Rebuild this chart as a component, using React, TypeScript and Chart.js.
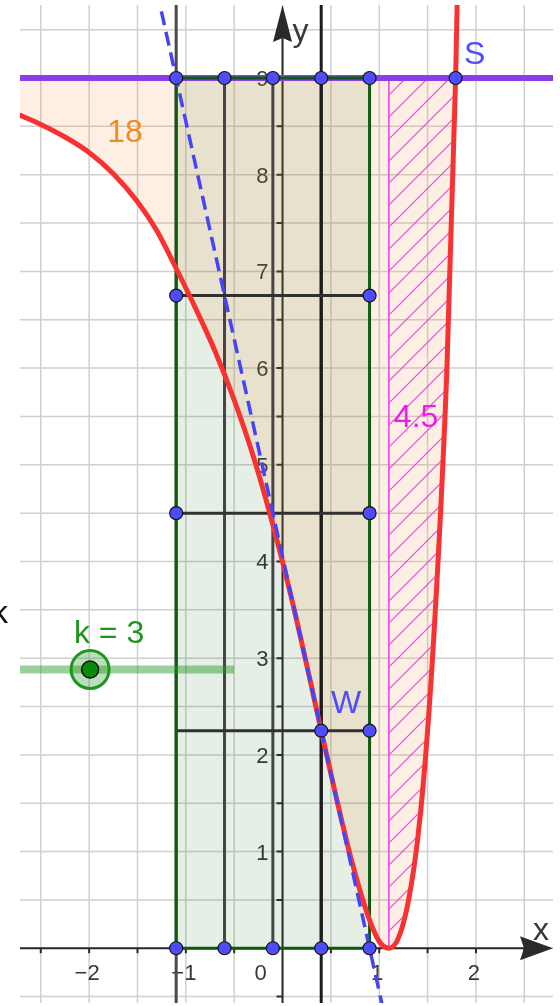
import React, { useEffect, useRef } from 'react';
import { Chart, registerables } from 'chart.js';

Chart.register(...registerables);

// ---------- view window (data units) ----------
const xMin = -2.715;
const xMax = 2.797;
const yMin = -0.566;
const yMax = 9.755;
const gridStep = 0.5;

// ---------- tick labels ----------
const xTickValues = [-2, -1, 0, 1, 2];
const xTickLabels = ['−2', '−1', '0', '1', '2'];
const yTickValues = [1, 2, 3, 4, 5, 6, 7, 8, 9];
const yTickLabels = ['1', '2', '3', '4', '5', '6', '7', '8', '9'];

// ---------- red curve f ----------
const curveX = [-2.75, -2.5, -2.25, -2.0, -1.75, -1.5, -1.3, -1.1, -0.9, -0.7, -0.5, -0.3, -0.1, 0.1, 0.25, 0.4, 0.55, 0.7, 0.8, 0.9, 1.0, 1.1, 1.2, 1.3, 1.4, 1.5, 1.6, 1.7, 1.79, 1.81];
const curveY = [8.63, 8.52, 8.39, 8.23, 8.01, 7.72, 7.42, 7.03, 6.62, 6.18, 5.67, 5.08, 4.38, 3.59, 2.93, 2.25, 1.585, 0.96, 0.6, 0.29, 0.07, 0.0, 0.11, 0.48, 1.15, 2.25, 3.85, 6.0, 9.0, 10.0];

// ---------- other objects ----------
const levelValue = 9; // purple line y = 9
const levelX = [-3, 3];
const tangentX = [-1.3, 1.05];
const tangentY = [9.9, -0.675];
const gridXs = [-1.1, -0.6, -0.1, 0.4, 0.9];
const gridYs = [0, 2.25, 4.5, 6.75, 9];
const fullLineXs = [-1.1, 0.4];
const fullLineY = [-1, 10.5];
const pointS = [1.79, 9];
const pointW = [0.4, 2.25];
const hatchRange = [1.1, 1.79];
const sliderLineX = [-3, -0.5];
const sliderLineY = 2.883;
const sliderKnobX = -1.99;
const kValue = 3;
const areaLeft = 18;
const areaRight = 4.5;

const FONT = '"Liberation Sans", Arial, Helvetica, sans-serif';

type P = { x: number; y: number };
const pts = (xs: number[], ys: number[]): P[] => xs.map((x, i) => ({ x, y: ys[i] }));
const curve = pts(curveX, curveY);

const seg = (a: P, b: P, color: string, width: number, order: number, extra: any = {}) => ({
  data: [a, b],
  borderColor: color,
  borderWidth: width,
  pointRadius: 0,
  fill: false,
  order,
  clip: 0,
  ...extra,
});

function makeHatch(): CanvasPattern | string {
  const s = 22;
  const c = document.createElement('canvas');
  c.width = s;
  c.height = s;
  const g = c.getContext('2d');
  if (!g) return 'rgba(255,0,255,0.2)';
  g.strokeStyle = '#F23CF2';
  g.lineWidth = 1.2;
  g.beginPath();
  g.moveTo(0, s);
  g.lineTo(s, 0);
  g.moveTo(-s / 2, s / 2);
  g.lineTo(s / 2, -s / 2);
  g.moveTo(s / 2, s * 1.5);
  g.lineTo(s * 1.5, s / 2);
  g.stroke();
  return g.createPattern(c, 'repeat') || 'rgba(255,0,255,0.2)';
}

const geoPlugin = {
  id: 'geo',
  beforeDatasetsDraw(chart: any) {
    const { ctx, chartArea: a } = chart;
    const X = (v: number) => chart.scales.x.getPixelForValue(v);
    const Y = (v: number) => chart.scales.y.getPixelForValue(v);
    ctx.save();
    ctx.beginPath();
    ctx.rect(a.left, a.top, a.right - a.left, a.bottom - a.top);
    ctx.clip();
    // grid
    ctx.strokeStyle = '#D0D0D0';
    ctx.lineWidth = 1.5;
    ctx.beginPath();
    for (let v = Math.ceil(xMin / gridStep) * gridStep; v <= xMax; v += gridStep) {
      ctx.moveTo(X(v), a.top);
      ctx.lineTo(X(v), a.bottom);
    }
    for (let v = Math.ceil(yMin / gridStep) * gridStep; v <= yMax; v += gridStep) {
      ctx.moveTo(a.left, Y(v));
      ctx.lineTo(a.right, Y(v));
    }
    ctx.stroke();
    // axes
    const ox = X(0);
    const oy = Y(0);
    ctx.strokeStyle = '#2a2a2a';
    ctx.lineWidth = 2;
    ctx.beginPath();
    ctx.moveTo(a.left, oy);
    ctx.lineTo(a.right - 20, oy);
    ctx.moveTo(ox, a.bottom);
    ctx.lineTo(ox, a.top + 20);
    ctx.stroke();
    ctx.beginPath();
    for (let v = Math.ceil(xMin / gridStep) * gridStep; v <= xMax; v += gridStep) {
      if (Math.abs(v) < 1e-9) continue;
      ctx.moveTo(X(v), oy);
      ctx.lineTo(X(v), oy + 5);
    }
    for (let v = Math.ceil(yMin / gridStep) * gridStep; v <= yMax; v += gridStep) {
      if (Math.abs(v) < 1e-9) continue;
      ctx.moveTo(ox - 6, Y(v));
      ctx.lineTo(ox, Y(v));
    }
    ctx.stroke();
    // arrows
    ctx.fillStyle = '#2a2a2a';
    ctx.beginPath();
    ctx.moveTo(a.right, oy);
    ctx.lineTo(a.right - 33, oy - 12);
    ctx.lineTo(a.right - 29, oy);
    ctx.lineTo(a.right - 33, oy + 12);
    ctx.closePath();
    ctx.fill();
    ctx.beginPath();
    ctx.moveTo(ox, a.top);
    ctx.lineTo(ox - 9.5, a.top + 37);
    ctx.lineTo(ox, a.top + 33);
    ctx.lineTo(ox + 9.5, a.top + 37);
    ctx.closePath();
    ctx.fill();
    // tick labels
    ctx.fillStyle = '#383838';
    ctx.font = `22px ${FONT}`;
    ctx.textBaseline = 'alphabetic';
    xTickValues.forEach((v, i) => {
      ctx.textAlign = 'center';
      const px = v === 0 ? ox - 22 : X(v) - 2;
      ctx.fillText(xTickLabels[i], px, oy + 32);
    });
    yTickValues.forEach((v, i) => {
      ctx.textAlign = 'right';
      ctx.fillText(yTickLabels[i], ox - 14, Y(v) + 8);
    });
    // axis names
    ctx.font = `32px ${FONT}`;
    ctx.textAlign = 'left';
    ctx.fillText('x', a.right - 20, oy - 8);
    ctx.fillText('y', ox + 10, a.top + 36);
    ctx.restore();
  },
  afterDatasetsDraw(chart: any) {
    const { ctx, chartArea: a } = chart;
    const X = (v: number) => chart.scales.x.getPixelForValue(v);
    const Y = (v: number) => chart.scales.y.getPixelForValue(v);
    ctx.save();
    ctx.beginPath();
    ctx.rect(a.left, a.top, a.right - a.left, a.bottom - a.top);
    ctx.clip();
    ctx.textAlign = 'center';
    ctx.textBaseline = 'alphabetic';
    ctx.font = `32px ${FONT}`;
    const put = (t: string, px: number, py: number, color: string) => {
      ctx.fillStyle = color;
      ctx.fillText(t, px, py + 11.5);
    };
    put(String(areaLeft), X(-1.628), Y(8.46), '#F28A1E');
    put(String(areaRight), X(1.381), Y(5.513), '#F019F0');
    put('S', X(pointS[0]) + 19, Y(pointS[1]) - 26, '#4D4DFF');
    put('W', X(pointW[0]) + 25, Y(pointW[1]) - 29, '#4D4DFF');
    put(`k = ${kValue}`, X(sliderKnobX) + 19, Y(sliderLineY) - 38, '#1E961E');
    ctx.restore();
    // label of the slider in the side panel (cut at the page edge)
    ctx.save();
    ctx.fillStyle = '#111';
    ctx.font = `32px ${FONT}`;
    ctx.textAlign = 'left';
    ctx.fillText('k', -8, 623);
    ctx.restore();
  },
};

export default function App() {
  const ref = useRef<HTMLCanvasElement>(null);
  useEffect(() => {
    document.body.style.margin = '0';
    const canvas = ref.current;
    if (!canvas) return;
    const hatch = makeHatch();

    const beigeData = curve.filter((p) => p.x <= pointS[0] + 1e-9);
    const hatchData = curve.filter((p) => p.x >= hatchRange[0] - 1e-9 && p.x <= hatchRange[1] + 1e-9);

    const x0 = gridXs[0];
    const x4 = gridXs[gridXs.length - 1];
    const y0 = gridYs[0];
    const y4 = gridYs[gridYs.length - 1];

    const datasets: any[] = [];

    // fills (green rectangle below, beige area between f and y = 9 above it)
    datasets.push({
      data: [{ x: x0, y: y0 }, { x: x4, y: y0 }], borderWidth: 0, borderColor: 'rgba(0,0,0,0)', pointRadius: 0,
      backgroundColor: 'rgba(0,100,0,0.1)', fill: { value: y4 }, order: 20, clip: 0,
    });
    datasets.push({
      data: beigeData, borderWidth: 0, borderColor: 'rgba(0,0,0,0)', pointRadius: 0,
      backgroundColor: 'rgba(245,135,45,0.13)', fill: { value: levelValue },
      cubicInterpolationMode: 'monotone', order: 19, clip: 0,
    });
    datasets.push({
      data: hatchData, borderWidth: 0, borderColor: 'rgba(0,0,0,0)', pointRadius: 0,
      backgroundColor: hatch, fill: { value: levelValue },
      cubicInterpolationMode: 'monotone', order: 18, clip: 0,
    });
    datasets.push(seg({ x: hatchRange[0], y: 0 }, { x: hatchRange[0], y: levelValue }, '#F23CF2', 1.5, 17));

    // purple line y = 9
    datasets.push(seg({ x: levelX[0], y: levelValue }, { x: levelX[1], y: levelValue }, '#8A3DE8', 6, 16));

    // full vertical lines
    fullLineXs.forEach((fx, i) => {
      datasets.push(seg({ x: fx, y: fullLineY[0] }, { x: fx, y: fullLineY[1] }, i === 0 ? '#4a4a4a' : '#1c1c1c', 3, 15));
    });

    // interior lines of the rectangle
    gridYs.slice(1, -1).forEach((gy) => {
      datasets.push(seg({ x: x0, y: gy }, { x: x4, y: gy }, '#303030', 3, 14));
    });
    gridXs.slice(1, -1).forEach((gx, i) => {
      datasets.push(seg({ x: gx, y: y0 }, { x: gx, y: y4 }, i === 2 ? '#1c1c1c' : '#454545', 3, 14));
    });

    // green rectangle edges
    const green = '#0E5A0E';
    datasets.push(seg({ x: x0, y: y0 }, { x: x4, y: y0 }, green, 3, 13));
    datasets.push(seg({ x: x0, y: y4 }, { x: x4, y: y4 }, green, 3, 13));
    datasets.push(seg({ x: x0, y: y0 }, { x: x0, y: y4 }, green, 3, 13));
    datasets.push(seg({ x: x4, y: y0 }, { x: x4, y: y4 }, green, 3, 13));

    // red curve
    datasets.push({
      data: curve, borderColor: '#F83232', borderWidth: 5, pointRadius: 0, fill: false,
      cubicInterpolationMode: 'monotone', borderJoinStyle: 'round', order: 5, clip: 0,
    });

    // tangent (dashed)
    datasets.push({
      data: pts(tangentX, tangentY), borderColor: '#4545F8', borderWidth: 3.5, borderDash: [14, 7],
      pointRadius: 0, fill: false, order: 4, clip: 0,
    });

    // slider
    datasets.push(seg({ x: sliderLineX[0], y: sliderLineY }, { x: sliderLineX[1], y: sliderLineY }, 'rgba(30,150,30,0.45)', 8, 3));
    datasets.push({
      data: [{ x: sliderKnobX, y: sliderLineY }], showLine: false, pointRadius: 19,
      pointBackgroundColor: 'rgba(30,150,30,0.3)', pointBorderColor: '#1E961E', pointBorderWidth: 3, order: 2, clip: false,
    });
    datasets.push({
      data: [{ x: sliderKnobX, y: sliderLineY }], showLine: false, pointRadius: 8.5,
      pointBackgroundColor: '#078A07', pointBorderColor: '#111', pointBorderWidth: 1.5, order: 1, clip: false,
    });

    // blue points
    const dots: P[] = [];
    gridYs.forEach((gy, j) => {
      gridXs.forEach((gx, i) => {
        const edge = i === 0 || i === gridXs.length - 1 || j === 0 || j === gridYs.length - 1;
        if (!edge) return;
        if (i === 0 && j === 1) return;
        dots.push({ x: gx, y: gy });
      });
    });
    dots.push({ x: pointW[0], y: pointW[1] });
    dots.push({ x: pointS[0], y: pointS[1] });
    datasets.push({
      data: dots, showLine: false, pointRadius: 6.5, pointBackgroundColor: '#4D4DFF',
      pointBorderColor: '#151515', pointBorderWidth: 1.2, order: 0, clip: false,
    });

    const chart = new Chart(canvas, {
      type: 'line',
      data: { datasets },
      options: {
        animation: false,
        responsive: false,
        devicePixelRatio: 1,
        events: [],
        layout: { autoPadding: false, padding: { left: 20, top: 5, right: 7, bottom: 3 } },
        scales: {
          x: { type: 'linear', min: xMin, max: xMax, display: false },
          y: { type: 'linear', min: yMin, max: yMax, display: false },
        },
        plugins: { legend: { display: false }, tooltip: { enabled: false } },
        elements: { line: { tension: 0 } },
      } as any,
      plugins: [geoPlugin as any],
    });
    return () => chart.destroy();
  }, []);
  return <canvas ref={ref} width={560} height={1006} style={{ display: 'block', width: 560, height: 1006 }} />;
}
